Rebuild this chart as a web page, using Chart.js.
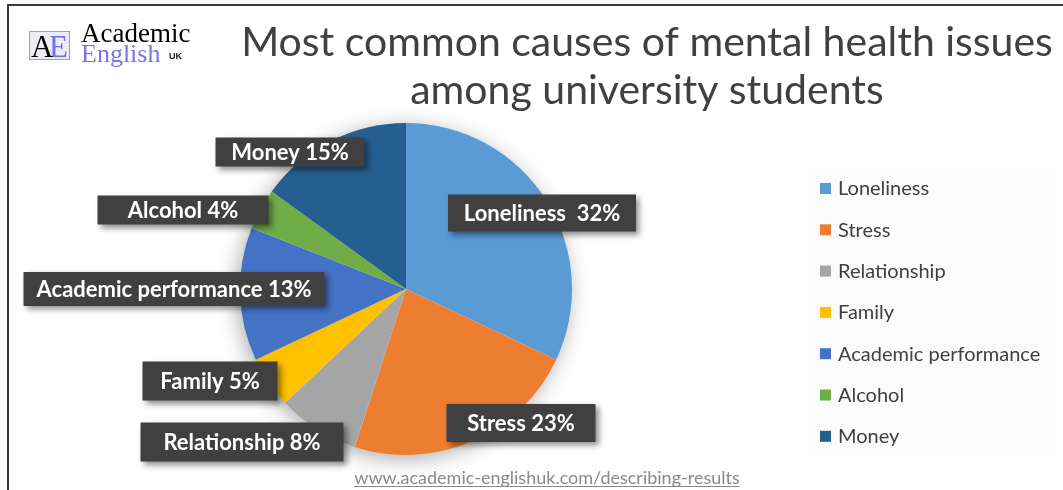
<!DOCTYPE html>
<html>
<head>
<meta charset="utf-8">
<title>Mental health causes</title>
<script src="https://cdn.jsdelivr.net/npm/chart.js@4/dist/chart.umd.min.js"></script>
<style>
  html, body { margin: 0; padding: 0; background: #ffffff; }
  #wrap { position: relative; width: 1063px; height: 490px; }
</style>
</head>
<body>
<div id="wrap"><canvas id="causesChart"></canvas></div>
<script>
const causes = ["Loneliness", "Stress", "Relationship", "Family", "Academic performance", "Alcohol", "Money"];
const shares = [32, 23, 8, 5, 13, 4, 15];
const sliceColors = ["#5B9BD5", "#ED7D31", "#A5A5A5", "#FFC000", "#4472C4", "#70AD47", "#255E91"];
const titleLines = ["Most common causes of mental health issues", "among university students"];
const sourceUrl = "www.academic-englishuk.com/describing-results";

// callout boxes: centre offset from the pie centre, then box width / height
const calloutBoxes = [
  [136, -76, 188, 37],
  [115, 134, 149, 38],
  [-164, 153, 203, 39],
  [-196, 92, 135, 39],
  [-232, 0, 301, 34],
  [-223, -79, 171, 29],
  [-116, -137, 149, 29],
];

const textDark = "#404040";

const decorations = {
  id: "decorations",
  beforeDraw(chart) {
    const ctx = chart.ctx;
    ctx.save();

    // frame (top + left edge)
    ctx.strokeStyle = "#3a3a3a";
    ctx.lineWidth = 2;
    ctx.beginPath();
    ctx.moveTo(8, 500);
    ctx.lineTo(8, 5);
    ctx.lineTo(1070, 5);
    ctx.stroke();

    // logo
    ctx.fillStyle = "#ececf2";
    ctx.strokeStyle = "#a0a0a8";
    ctx.lineWidth = 1;
    ctx.fillRect(29.5, 31.5, 40, 28);
    ctx.strokeRect(29.5, 31.5, 40, 28);
    ctx.font = "31px 'Liberation Serif', serif";
    ctx.textBaseline = "alphabetic";
    ctx.textAlign = "left";
    ctx.fillStyle = "#6f6ff0";
    ctx.fillText("E", 49, 57);
    ctx.fillStyle = "#000000";
    ctx.fillText("A", 31, 57);
    ctx.font = "27px 'Liberation Serif', serif";
    ctx.fillText("Academic", 81, 42);
    ctx.fillStyle = "#7575f0";
    ctx.font = "26px 'Liberation Serif', serif";
    ctx.fillText("English", 81, 62);
    ctx.fillStyle = "#222222";
    ctx.font = "bold 9px 'Liberation Sans', sans-serif";
    ctx.fillText("UK", 169, 59);

    // title
    ctx.fillStyle = textDark;
    ctx.textAlign = "center";
    ctx.font = "400 41px Lato, sans-serif";
    ctx.fillText(titleLines[0], 647, 56);
    ctx.fillText(titleLines[1], 647, 104);

    // legend panel
    ctx.fillStyle = "#fbfbfb";
    ctx.fillRect(808, 168, 248, 289);
    ctx.restore();
  },
  beforeDatasetsDraw(chart) {
    const ctx = chart.ctx;
    const arc = chart.getDatasetMeta(0).data[0];
    ctx.save();
    ctx.shadowColor = "rgba(0, 0, 0, 0.35)";
    ctx.shadowBlur = 22;
    ctx.shadowOffsetX = -3;
    ctx.shadowOffsetY = 4;
    ctx.fillStyle = "#ffffff";
    ctx.beginPath();
    ctx.arc(arc.x, arc.y, arc.outerRadius - 1, 0, Math.PI * 2);
    ctx.fill();
    ctx.restore();
  },
  afterDatasetsDraw(chart) {
    const ctx = chart.ctx;
    const meta = chart.getDatasetMeta(0);
    const cx = meta.data[0].x;
    const cy = meta.data[0].y;
    ctx.save();

    // callouts
    ctx.textAlign = "center";
    ctx.textBaseline = "middle";
    ctx.font = "bold 22px Lato, sans-serif";
    causes.forEach((cause, i) => {
      const [dx, dy, w, h] = calloutBoxes[i];
      const bx = cx + dx - w / 2;
      const by = cy + dy - h / 2;
      ctx.save();
      ctx.shadowColor = "rgba(0, 0, 0, 0.45)";
      ctx.shadowBlur = 6;
      ctx.shadowOffsetX = 3;
      ctx.shadowOffsetY = 3;
      ctx.fillStyle = "#404040";
      ctx.fillRect(bx, by, w, h);
      ctx.restore();
      const gap = i === 0 ? "  " : " ";
      ctx.fillStyle = "#ffffff";
      ctx.fillText(`${cause}${gap}${chart.data.datasets[0].data[i]}%`, cx + dx, cy + dy + 1);
    });

    // legend
    ctx.textAlign = "left";
    ctx.font = "20px Lato, sans-serif";
    causes.forEach((cause, i) => {
      const y = 188 + i * 41.3;
      ctx.fillStyle = sliceColors[i];
      ctx.fillRect(820, y - 5, 11, 11);
      ctx.fillStyle = textDark;
      ctx.fillText(cause, 838, y + 1);
    });

    // source link
    ctx.textAlign = "center";
    ctx.textBaseline = "alphabetic";
    ctx.font = "18px Lato, sans-serif";
    ctx.fillStyle = "#8a8a8a";
    ctx.fillText(sourceUrl, 547, 484);
    const urlWidth = ctx.measureText(sourceUrl).width;
    ctx.fillRect(547 - urlWidth / 2, 486, urlWidth, 1);
    ctx.restore();
  },
};

new Chart(document.getElementById("causesChart"), {
  type: "pie",
  data: {
    labels: causes,
    datasets: [
      {
        data: shares,
        backgroundColor: sliceColors,
        borderWidth: 0,
        hoverOffset: 0,
      },
    ],
  },
  options: {
    responsive: true,
    maintainAspectRatio: false,
    animation: false,
    layout: {
      padding: { left: 240, right: 491, top: 123, bottom: 35 },
    },
    plugins: {
      legend: { display: false },
      title: { display: false },
      tooltip: { enabled: false },
    },
  },
  plugins: [decorations],
});
</script>
</body>
</html>
